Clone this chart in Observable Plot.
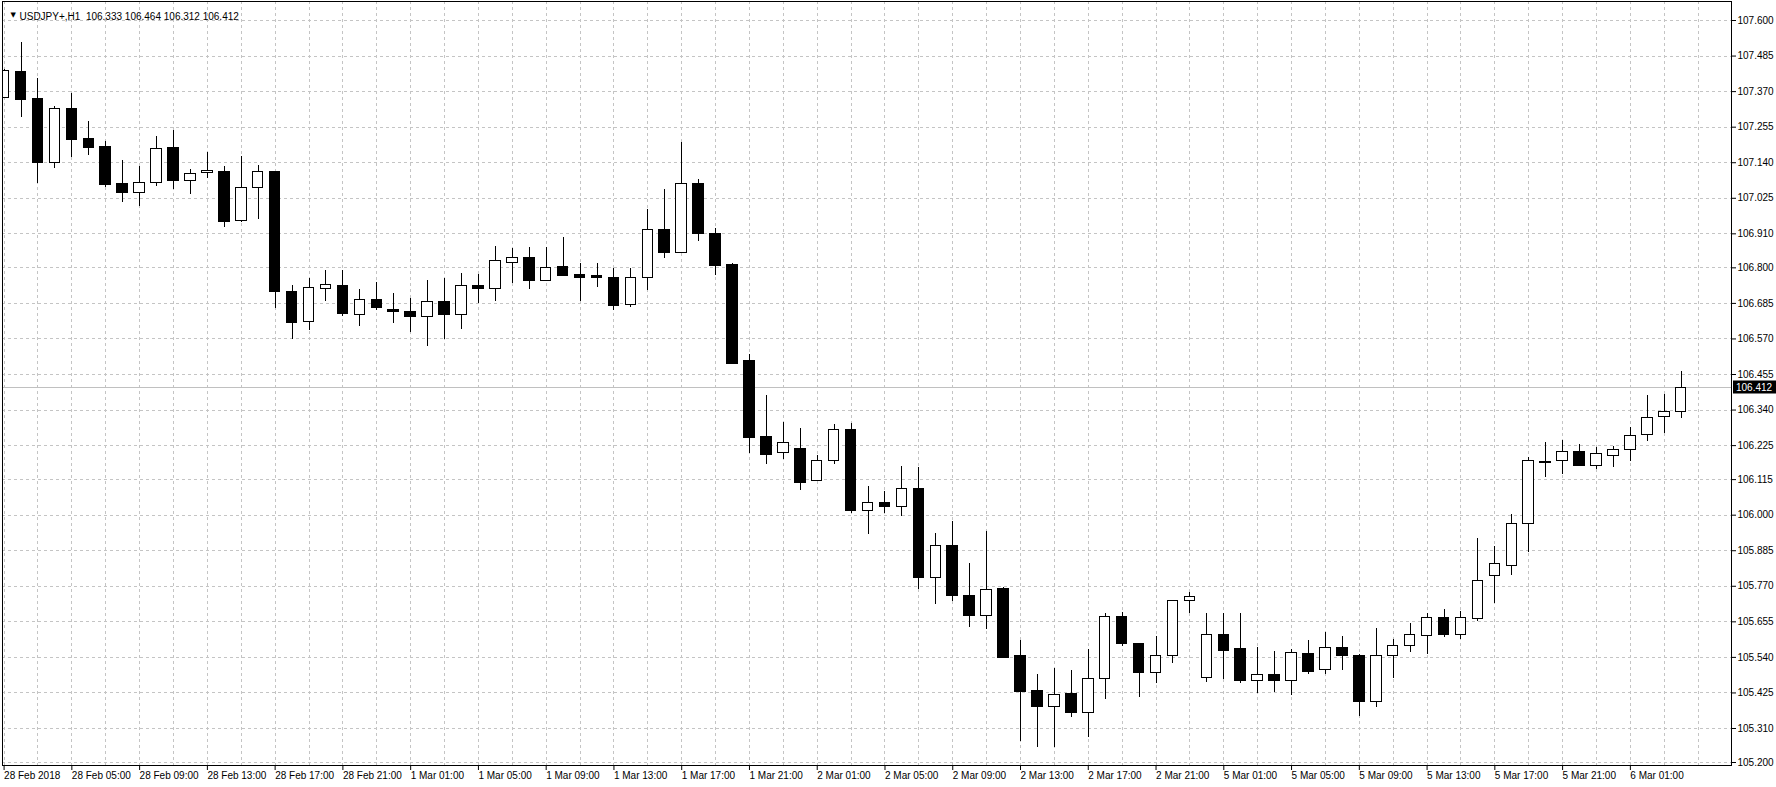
<!DOCTYPE html>
<html><head><meta charset="utf-8">
<script src="https://cdn.jsdelivr.net/npm/d3@7"></script>
<script src="https://cdn.jsdelivr.net/npm/@observablehq/plot@0.6"></script>
<style>
html,body{margin:0;padding:0;background:#fff;}
#chart svg{display:block;}
</style></head><body><div id="chart"></div>
<script>
const symbol = "USDJPY+";
const timeframe = "H1";

// Hourly bars, 28 Feb 2018 01:00 -> 6 Mar 2018 04:00 (bar index 0..99)
const opens = [107.350,107.435,107.345,107.138,107.314,107.216,107.190,107.072,107.043,107.075,
107.188,107.081,107.106,107.109,106.950,107.058,107.109,106.721,106.624,106.732,
106.740,106.649,106.695,106.664,106.657,106.640,106.691,106.646,106.740,106.732,
106.816,106.831,106.758,106.802,106.777,106.772,106.767,106.680,106.767,106.921,
106.848,107.072,106.911,106.808,106.500,106.252,106.201,106.215,106.112,106.174,
106.276,106.012,106.040,106.026,106.084,105.796,105.900,105.738,105.673,105.760,
105.546,105.431,105.379,105.420,105.361,105.471,105.670,105.584,105.490,105.543,
105.724,105.474,105.612,105.567,105.465,105.482,105.463,105.552,105.498,105.571,
105.546,105.395,105.543,105.576,105.608,105.668,105.614,105.665,105.803,105.837,
105.972,106.172,106.174,106.204,106.159,106.193,106.211,106.260,106.317,106.333];
const highs = [107.440,107.530,107.411,107.322,107.365,107.274,107.209,107.147,107.128,107.226,
107.244,107.117,107.172,107.128,107.161,107.130,107.112,106.743,106.764,106.791,
106.791,106.729,106.753,106.716,106.700,106.759,106.767,106.781,106.777,106.870,
106.863,106.867,106.867,106.897,106.815,106.815,106.797,106.797,106.990,107.052,
107.205,107.085,106.928,106.815,106.520,106.387,106.301,106.279,106.192,106.292,
106.298,106.093,106.078,106.158,106.153,105.940,105.978,105.843,105.947,105.766,
105.595,105.485,105.503,105.496,105.565,105.681,105.684,105.586,105.608,105.724,
105.749,105.681,105.681,105.681,105.571,105.559,105.565,105.595,105.620,105.609,
105.548,105.632,105.598,105.649,105.683,105.694,105.689,105.924,105.900,106.002,
106.188,106.236,106.242,106.228,106.218,106.222,106.283,106.386,106.390,106.464];
const lows = [107.348,107.285,107.074,107.122,107.158,107.162,107.061,107.010,107.000,107.064,
107.055,107.038,107.088,106.929,106.948,106.956,106.669,106.567,106.597,106.692,
106.644,106.610,106.662,106.621,106.590,106.546,106.567,106.600,106.686,106.692,
106.750,106.731,106.756,106.772,106.692,106.738,106.662,106.673,106.727,106.829,
106.846,106.885,106.774,106.488,106.199,106.163,106.179,106.080,106.109,106.163,
106.007,105.938,106.007,105.996,105.759,105.710,105.721,105.638,105.629,105.535,
105.269,105.250,105.250,105.344,105.282,105.405,105.575,105.409,105.457,105.519,
105.683,105.460,105.468,105.457,105.422,105.428,105.417,105.484,105.484,105.498,
105.349,105.379,105.471,105.555,105.548,105.603,105.597,105.657,105.713,105.805,
105.878,106.121,106.131,106.158,106.148,106.155,106.172,106.238,106.265,106.312];
const closes = [107.438,107.343,107.138,107.314,107.214,107.187,107.069,107.043,107.075,107.185,
107.080,107.105,107.112,106.947,107.058,107.109,106.721,106.621,106.735,106.743,
106.651,106.695,106.670,106.656,106.640,106.690,106.649,106.742,106.732,106.821,
106.831,106.759,106.800,106.775,106.768,106.767,106.677,106.767,106.921,106.848,
107.072,106.909,106.806,106.490,106.251,106.196,106.233,106.105,106.174,106.276,
106.012,106.039,106.026,106.084,105.796,105.900,105.738,105.673,105.759,105.539,
105.428,105.379,105.419,105.361,105.471,105.670,105.584,105.490,105.543,105.724,
105.735,105.612,105.562,105.463,105.482,105.463,105.554,105.494,105.571,105.544,
105.395,105.543,105.576,105.612,105.667,105.614,105.668,105.787,105.841,105.972,
106.174,106.169,106.204,106.159,106.197,106.211,106.256,106.314,106.333,106.412];

const dateTickBars = [0,4,8,12,16,20,24,28,32,36,40,44,48,52,56,60,64,68,72,76,80,84,88,92,96];
const dateTickLabels = ["28 Feb 2018","28 Feb 05:00","28 Feb 09:00","28 Feb 13:00","28 Feb 17:00","28 Feb 21:00",
"1 Mar 01:00","1 Mar 05:00","1 Mar 09:00","1 Mar 13:00","1 Mar 17:00","1 Mar 21:00",
"2 Mar 01:00","2 Mar 05:00","2 Mar 09:00","2 Mar 13:00","2 Mar 17:00","2 Mar 21:00",
"5 Mar 01:00","5 Mar 05:00","5 Mar 09:00","5 Mar 13:00","5 Mar 17:00","5 Mar 21:00","6 Mar 01:00"];
const priceTickLabels = ["107.600","107.485","107.370","107.255","107.140","107.025","106.910","106.800",
"106.685","106.570","106.455","106.340","106.225","106.115","106.000","105.885","105.770","105.655",
"105.540","105.425","105.310","105.200"];

const candles = opens.map((o, i) => ({i, open: o, high: highs[i], low: lows[i], close: closes[i]}));
const last = candles[candles.length - 1];
const priceTicks = priceTickLabels.map(Number);
const priceLabelMap = new Map(priceTicks.map((v, k) => [v, priceTickLabels[k]]));
const dateLabelMap = new Map(dateTickBars.map((v, k) => [v, dateTickLabels[k]]));
const gridBars = d3.range(0, 101, 2);
const titleText = `${symbol},${timeframe}\u00a0\u00a0${last.open.toFixed(3)} ${last.high.toFixed(3)} ${last.low.toFixed(3)} ${last.close.toFixed(3)}`;

const W = 1776, H = 787, mR = 45;
const FONT = "'Liberation Sans', Arial, sans-serif";
const gridColor = "#c4c4c4";

const chart = Plot.plot({
  width: W, height: H,
  marginLeft: 2, marginRight: mR, marginTop: 1, marginBottom: 22,
  style: {fontFamily: FONT, fontSize: "10px", background: "#fff", color: "#000", overflow: "visible"},
  x: {type: "linear", domain: [-0.094, 101.97], axis: null},
  y: {type: "linear", domain: [105.1903, 107.6615], axis: null},
  marks: [
    Plot.ruleY(priceTicks, {stroke: gridColor, strokeDasharray: "3,3", shapeRendering: "crispEdges"}),
    Plot.ruleX(gridBars, {stroke: gridColor, strokeDasharray: "3,3", shapeRendering: "crispEdges"}),
    Plot.ruleY([last.close], {stroke: "#c0c0c0", shapeRendering: "crispEdges"}),
    Plot.ruleX(candles, {x: "i", y1: "low", y2: "high", stroke: "#000", clip: true, shapeRendering: "crispEdges"}),
    Plot.rect(candles, {
      x1: d => d.i - 0.5, x2: d => d.i + 0.5, y1: "open", y2: "close",
      insetLeft: 3.2, insetRight: 3.2,
      fill: d => d.close >= d.open ? "#fff" : "#000",
      stroke: "#000", clip: true, shapeRendering: "crispEdges"
    }),
    Plot.frame({stroke: "#000", shapeRendering: "crispEdges"}),
    Plot.axisY(priceTicks, {anchor: "right", label: null, tickSize: 4, tickPadding: 2, tickFormat: d => priceLabelMap.get(d), fontSize: 10}),
    Plot.axisX(dateTickBars, {anchor: "bottom", label: null, tickSize: 5, tickPadding: 1, tickFormat: d => dateLabelMap.get(d), textAnchor: "start", fontSize: 10}),
    Plot.text(["\u25BC"], {frameAnchor: "top-left", dx: 8, dy: 11, fontSize: 7, fontFamily: "DejaVu Sans", fill: "#000"}),
    Plot.text([titleText], {frameAnchor: "top-left", dx: 17, dy: 11, textAnchor: "start", fontSize: 10, fill: "#000"})
  ]
});

// current price marker on the right scale
const yPrice = chart.scale("y").apply(last.close);
const g = d3.select(chart).append("g").attr("text-anchor", "start");
g.append("rect")
  .attr("x", W - mR + 2).attr("y", Math.round(yPrice) - 6.5)
  .attr("width", mR - 2).attr("height", 13).attr("fill", "#000");
g.append("text")
  .attr("x", W - mR + 5).attr("y", Math.round(yPrice) + 3.5)
  .attr("text-anchor", "start")
  .attr("fill", "#fff").attr("font-family", FONT).attr("font-size", 10)
  .text(last.close.toFixed(3));

document.getElementById("chart").appendChild(chart);
</script>
</body></html>
